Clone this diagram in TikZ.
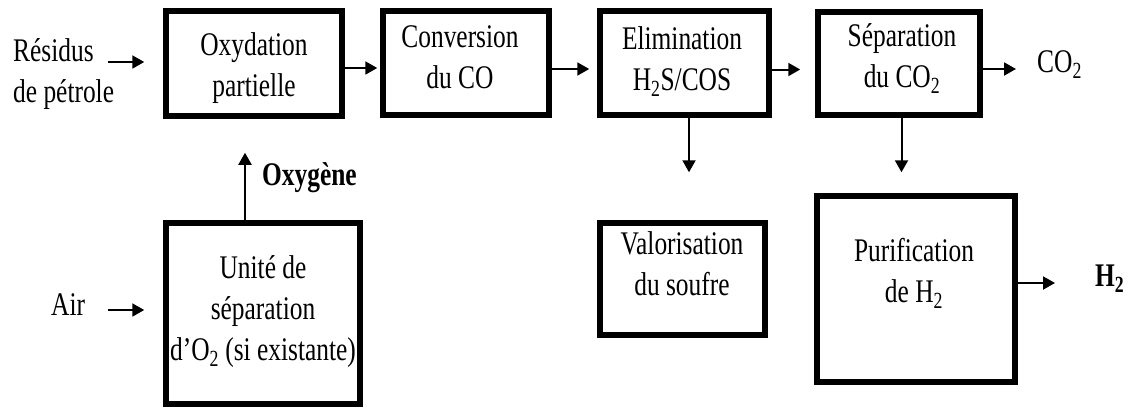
\documentclass[tikz,border=0pt]{standalone}
\usepackage{fontspec}
\setmainfont[FakeStretch=0.77]{Liberation Serif}
\usetikzlibrary{arrows.meta, positioning}

\begin{document}
\begin{tikzpicture}[x=1pt, y=-1pt,
        font=\fontsize{33}{41}\selectfont,
        unit/.style={draw, line width=5.5pt, inner sep=0pt},
        txt/.style={inner sep=0pt, align=center, anchor=base},
        lbl/.style={inner sep=0pt, align=left, anchor=base west},
        flow/.style={-{Triangle[length=12pt, width=13pt]}, line width=2pt},
        ]
        \useasboundingbox (0,0) rectangle (1130,410);

        % unites
        \node[unit, minimum width=176pt, minimum height=105pt] (oxy) at (254,63.5) {};
        \node[unit, minimum width=166pt, minimum height=104pt] (conv) at (466,63) {};
        \node[unit, minimum width=169pt, minimum height=104pt] (elim) at (684.5,63) {};
        \node[unit, minimum width=162pt, minimum height=103pt] (sep) at (899,63.5) {};
        \node[unit, minimum width=194pt, minimum height=181pt] (asu) at (263,313.5) {};
        \node[unit, minimum width=165pt, minimum height=112pt] (valo) at (682.5,279) {};
        \node[unit, minimum width=198pt, minimum height=186pt] (puri) at (916,289) {};

        % textes des unites (ancre sur la derniere ligne)
        \node[txt] (oxytxt) at (254,96) {Oxydation\\partielle};
        \node[txt] (convtxt) at (460,88) {Conversion\\du CO};
        \node[txt] (elimtxt) at (682,90) {Elimination\\H\textsubscript{2}S/COS};
        \node[txt] (septxt) at (902,87) {Séparation\\du CO\textsubscript{2}};
        \node[txt] (asutxt) at (263,360) {Unité de\\séparation\\d’O\textsubscript{2} (si existante)};
        \node[txt] (valotxt) at (682,295) {Valorisation\\du soufre};
        \node[txt] (puritxt) at (914,302) {Purification\\de H\textsubscript{2}};

        % entrees et sorties
        \node[lbl] (res) at (13,102) {Résidus\\de pétrole};
        \node[lbl] (air) at (51,315) {Air};
        \node[lbl] (oxyg) at (262,185) {\bfseries Oxygène};
        \node[lbl] (co2) at (1037,72) {CO\textsubscript{2}};
        \node[lbl] (h2) at (1095,286) {\bfseries H\textsubscript{2}};

        \coordinate (resend) at (108,62);
        \coordinate (airend) at (108,310);

        \draw[flow, shorten >=19pt] (resend) -- (resend -| oxy.west);
        \draw[flow, shorten >=19pt] (airend) -- (airend -| asu.west);
        \draw[flow, shorten >=3pt] ([yshift=-4.5pt]oxy.east) -- ([yshift=-4.5pt]oxy.east -| conv.west);
        \draw[flow, shorten >=8pt] ([yshift=-6pt]conv.east) -- ([yshift=-6pt]conv.east -| elim.west);
        \draw[flow, shorten >=15pt] ([yshift=-6.5pt]elim.east) -- ([yshift=-6.5pt]elim.east -| sep.west);
        \draw[flow, shorten >=21pt] ([yshift=-5.5pt]sep.east) -- ([yshift=-5.5pt]sep.east -| co2.west);
        \draw[flow, shorten >=48pt] ([xshift=4.5pt]elim.south) -- ([xshift=4.5pt]elim.south |- valo.north);
        \draw[flow, shorten >=21pt] ([xshift=2.5pt]sep.south) -- ([xshift=2.5pt]sep.south |- puri.north);
        \draw[flow, shorten >=34pt] ([xshift=-18pt]asu.north) -- ([xshift=-18pt]asu.north |- oxy.south);
        \draw[flow, shorten >=40pt] ([yshift=6pt]puri.east) -- ([yshift=6pt]puri.east -| h2.west);

\end{tikzpicture}
\end{document}
